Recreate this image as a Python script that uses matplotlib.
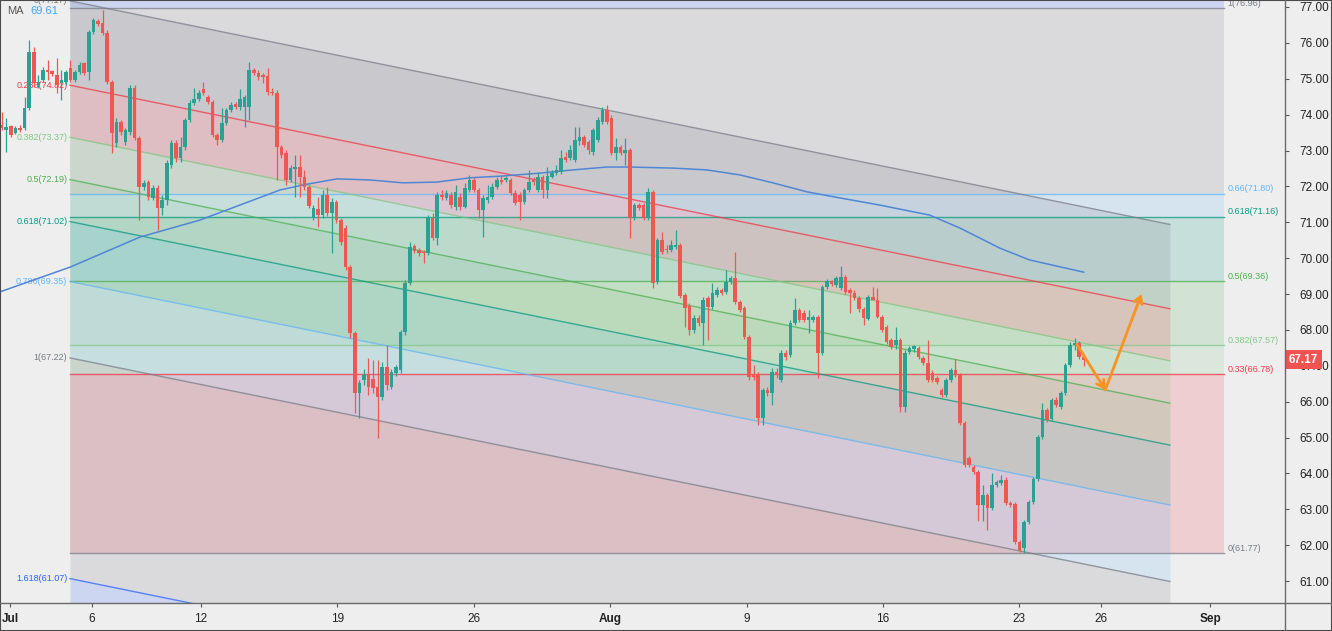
import numpy as np
import matplotlib.pyplot as plt
from matplotlib.patches import FancyArrowPatch, Rectangle
from matplotlib.lines import Line2D

plt.rcParams['font.family'] = ['Liberation Sans', 'DejaVu Sans']

# Brent 4H candles, 30 Jun - 25 Aug 2021
opens = [
    73.71, 73.57, 73.68, 73.49, 73.63, 73.63, 74.19, 75.75, 74.83, 74.97,
    75.24, 75.22, 75.10, 74.88, 74.91, 75.30, 74.97, 75.19, 75.44, 75.19,
    76.30, 76.61, 76.55, 76.28, 74.91, 73.21, 73.79, 73.24, 73.52, 74.74,
    73.35, 71.98, 72.12, 71.68, 71.96, 71.40, 71.62, 72.60, 73.21, 72.79,
    73.10, 73.85, 74.32, 74.44, 74.71, 74.49, 74.35, 73.43, 73.29, 73.77,
    74.13, 74.30, 74.21, 74.21, 74.21, 75.24, 75.16, 75.10, 75.08, 74.63,
    74.60, 73.10, 72.93, 72.18, 72.49, 72.54, 72.26, 71.98, 71.15, 71.37,
    71.20, 71.76, 71.26, 71.57, 71.06, 70.84, 69.75, 67.92, 66.25, 66.61,
    66.75, 66.64, 66.42, 66.14, 66.97, 66.42, 66.80, 66.88, 67.94, 69.31,
    70.34, 70.23, 70.17, 70.15, 71.12, 70.56, 71.76, 71.68, 71.76, 71.43,
    71.70, 71.43, 71.90, 72.18, 71.90, 71.34, 71.62, 71.70, 71.98, 72.18,
    72.18, 72.18, 71.82, 71.76, 71.57, 71.90, 72.18, 71.90, 72.26, 71.90,
    72.26, 72.37, 72.40, 72.82, 72.79, 72.74, 73.26, 73.38, 73.24, 72.96,
    73.29, 73.80, 74.13, 73.91, 72.93, 73.10, 72.93, 73.01, 71.12, 71.48,
    71.48, 71.12, 71.85, 69.34, 70.51, 70.26, 70.23, 70.31, 70.37, 68.97,
    68.66, 68.00, 68.33, 68.19, 68.88, 68.64, 68.97, 69.11, 69.06, 69.34,
    69.45, 68.78, 68.61, 67.81, 66.75, 66.75, 65.55, 66.33, 66.25, 66.83,
    66.61, 67.36, 67.30, 68.19, 68.56, 68.47, 68.28, 68.28, 68.36, 67.36,
    69.20, 69.37, 69.25, 69.17, 69.48, 69.11, 69.03, 68.89, 68.58, 68.30,
    68.92, 68.84, 68.37, 68.08, 67.72, 67.58, 67.72, 65.85, 67.39, 67.47,
    67.50, 67.22, 67.08, 66.80, 66.66, 66.33, 66.19, 66.61, 66.88, 66.75,
    65.41, 64.43, 64.17, 64.04, 63.12, 63.40, 63.04, 63.68, 63.74, 63.82,
    63.18, 63.15, 62.08, 61.92, 62.64, 63.20, 63.85, 65.02, 65.77, 65.52,
    66.05, 65.85, 66.25, 67.02, 67.58, 67.64, 67.25]
highs = [
    74.07, 73.90, 73.71, 73.68, 73.71, 74.49, 76.08, 75.89, 75.10, 75.33,
    75.52, 75.24, 75.58, 75.24, 75.24, 75.52, 75.24, 75.47, 75.47, 76.36,
    76.69, 76.67, 76.92, 76.36, 74.97, 73.91, 73.85, 73.63, 74.83, 74.83,
    73.40, 72.18, 72.18, 72.04, 72.04, 71.76, 72.74, 73.29, 73.29, 73.38,
    73.91, 74.41, 74.74, 74.69, 74.91, 74.55, 74.41, 73.49, 74.19, 74.19,
    74.35, 74.35, 74.72, 74.55, 75.47, 75.30, 75.24, 75.16, 75.30, 74.74,
    74.69, 73.15, 73.01, 72.60, 72.87, 72.87, 72.46, 72.04, 71.48, 71.70,
    71.90, 71.98, 71.68, 71.62, 71.12, 70.92, 69.80, 67.98, 66.61, 66.91,
    67.22, 67.16, 67.16, 67.11, 67.58, 66.91, 67.02, 68.00, 69.39, 70.45,
    70.40, 70.28, 70.23, 71.20, 71.26, 71.85, 71.90, 71.90, 71.85, 72.04,
    71.82, 72.10, 72.32, 72.24, 71.96, 71.76, 72.04, 72.10, 72.26, 72.29,
    72.29, 72.24, 71.90, 71.85, 71.96, 72.46, 72.26, 72.40, 72.32, 72.54,
    72.46, 72.60, 73.01, 72.96, 73.15, 73.65, 73.65, 73.43, 73.29, 73.63,
    73.94, 74.21, 74.27, 73.99, 73.35, 73.15, 73.35, 73.07, 71.54, 71.54,
    71.54, 71.96, 71.90, 70.56, 70.73, 70.37, 70.51, 70.79, 70.42, 69.03,
    68.75, 68.42, 68.42, 68.92, 68.95, 69.31, 69.20, 69.17, 69.67, 69.50,
    70.17, 68.83, 68.67, 67.86, 67.02, 66.83, 66.39, 66.42, 66.94, 66.94,
    67.44, 67.44, 68.28, 68.89, 68.61, 68.56, 68.56, 68.42, 68.42, 69.25,
    69.42, 69.39, 69.50, 69.78, 69.53, 69.17, 69.11, 68.95, 68.64, 68.97,
    69.20, 69.17, 68.42, 68.14, 67.78, 68.08, 67.78, 67.44, 67.55, 67.58,
    67.55, 67.27, 67.72, 66.88, 66.72, 66.39, 66.66, 66.94, 67.19, 66.80,
    65.46, 64.48, 64.23, 64.10, 63.68, 63.45, 64.01, 63.82, 63.96, 63.90,
    63.23, 63.20, 62.14, 62.70, 63.26, 63.90, 65.07, 65.97, 65.83, 66.11,
    66.14, 66.30, 67.08, 67.67, 67.78, 67.69, 67.30]
lows = [
    73.57, 72.96, 73.38, 73.46, 73.52, 73.57, 74.13, 74.77, 74.74, 74.91,
    74.97, 75.08, 74.60, 74.41, 74.83, 74.91, 74.91, 75.13, 75.10, 74.97,
    76.25, 76.47, 76.22, 74.85, 72.93, 73.10, 73.43, 73.15, 73.43, 73.29,
    71.06, 71.90, 71.62, 71.62, 70.79, 71.20, 71.48, 72.51, 72.68, 72.68,
    73.01, 73.80, 74.27, 74.38, 74.55, 74.30, 73.38, 73.15, 73.24, 73.71,
    74.07, 74.16, 74.13, 73.66, 73.85, 75.10, 74.97, 74.88, 74.55, 74.55,
    72.18, 72.79, 72.04, 72.12, 71.70, 71.70, 71.90, 71.40, 71.06, 70.87,
    71.12, 71.17, 70.15, 70.98, 70.37, 69.67, 67.78, 65.69, 65.55, 66.47,
    66.19, 66.25, 64.99, 66.05, 66.33, 66.36, 66.72, 66.80, 67.86, 69.25,
    70.15, 70.06, 69.87, 70.09, 70.51, 70.37, 71.62, 71.62, 71.40, 71.34,
    71.34, 71.40, 71.85, 71.85, 71.12, 70.59, 71.54, 71.65, 71.93, 72.07,
    72.12, 71.76, 71.48, 71.06, 71.51, 71.85, 72.04, 71.85, 71.68, 71.68,
    72.24, 72.32, 72.35, 72.68, 72.74, 72.68, 73.15, 73.10, 72.90, 72.87,
    73.24, 73.74, 73.74, 72.87, 72.74, 72.87, 72.60, 70.56, 71.06, 71.34,
    71.06, 71.06, 69.17, 69.28, 70.12, 70.15, 70.17, 70.26, 68.89, 68.08,
    67.86, 67.92, 68.11, 67.58, 67.72, 68.58, 68.92, 68.97, 69.00, 69.28,
    68.72, 68.50, 67.75, 66.61, 66.61, 65.35, 65.35, 66.16, 65.91, 66.66,
    66.55, 67.16, 67.25, 68.14, 68.22, 68.22, 67.92, 68.22, 66.66, 67.30,
    69.14, 69.23, 69.20, 69.11, 69.00, 68.47, 68.83, 68.50, 68.14, 68.28,
    68.83, 68.33, 67.94, 67.61, 67.47, 67.47, 65.71, 65.71, 67.33, 67.39,
    67.19, 67.02, 66.55, 66.55, 66.50, 66.14, 66.14, 66.55, 66.69, 65.35,
    64.17, 64.17, 63.98, 62.67, 62.67, 62.42, 62.98, 63.62, 63.68, 63.12,
    63.07, 62.03, 61.81, 61.78, 62.59, 63.15, 63.79, 64.96, 65.43, 65.46,
    65.85, 65.80, 66.19, 66.97, 67.44, 67.19, 66.99]
closes = [
    73.63, 73.65, 73.43, 73.63, 73.57, 74.19, 75.75, 74.88, 74.91, 75.24,
    75.19, 75.13, 74.83, 74.97, 75.19, 74.97, 75.19, 75.38, 75.16, 76.30,
    76.64, 76.53, 76.28, 74.91, 73.49, 73.79, 73.52, 73.57, 74.74, 73.35,
    71.98, 72.10, 71.70, 71.96, 71.40, 71.62, 72.65, 73.21, 72.79, 73.10,
    73.85, 74.32, 74.44, 74.60, 74.60, 74.35, 73.43, 73.29, 73.77, 74.13,
    74.27, 74.21, 74.44, 74.49, 75.24, 75.16, 75.05, 75.05, 74.63, 74.60,
    73.10, 72.87, 72.18, 72.51, 72.54, 72.26, 71.98, 71.45, 71.40, 71.20,
    71.76, 71.26, 71.57, 71.06, 70.45, 69.75, 67.92, 66.25, 66.53, 66.75,
    66.42, 66.39, 66.14, 66.97, 66.47, 66.83, 66.97, 67.94, 69.31, 70.31,
    70.20, 70.15, 70.15, 71.12, 70.56, 71.76, 71.70, 71.82, 71.48, 71.85,
    71.43, 71.96, 72.18, 71.90, 71.34, 71.68, 71.70, 71.98, 72.18, 72.12,
    72.24, 71.82, 71.54, 71.57, 71.90, 72.12, 72.12, 72.26, 71.90, 72.29,
    72.37, 72.46, 72.79, 72.74, 73.01, 73.29, 73.38, 73.15, 73.01, 73.57,
    73.85, 74.13, 73.80, 72.93, 73.10, 72.93, 73.01, 71.12, 71.48, 71.40,
    71.12, 71.85, 69.31, 70.51, 70.17, 70.23, 70.37, 70.37, 68.95, 68.61,
    68.00, 68.33, 68.19, 68.83, 68.64, 69.03, 69.11, 69.03, 69.34, 69.45,
    68.78, 68.56, 67.81, 66.69, 66.69, 65.55, 66.33, 66.25, 66.83, 66.75,
    67.36, 67.25, 68.19, 68.56, 68.28, 68.28, 68.36, 68.36, 67.36, 69.20,
    69.37, 69.28, 69.45, 69.48, 69.06, 69.03, 68.89, 68.58, 68.33, 68.92,
    68.84, 68.37, 68.00, 67.67, 67.53, 67.72, 65.85, 67.36, 67.50, 67.55,
    67.25, 67.08, 66.61, 66.61, 66.55, 66.19, 66.61, 66.88, 66.75, 65.41,
    64.23, 64.23, 64.04, 63.12, 63.40, 63.04, 63.68, 63.76, 63.82, 63.18,
    63.12, 62.08, 61.87, 62.64, 63.20, 63.85, 65.02, 65.77, 65.49, 66.05,
    65.91, 66.25, 67.02, 67.58, 67.64, 67.25, 67.17]

# moving average, sampled along the line (bar index, value)
ma_bars = [-0.4, 14.9, 30.2, 43.2, 60.7, 65.7, 73.1, 80.3, 87.5, 94.9, 102.1, 109.3,
           117.4, 124.6, 132.0, 137.0, 146.4, 153.8, 161.0, 168.2, 175.6, 180.6,
           191.5, 202.4, 209.0, 217.7, 224.2, 236.0]
ma_vals = [69.06, 69.75, 70.59, 71.06, 71.90, 72.04, 72.21, 72.18, 72.10, 72.12, 72.24, 72.29,
           72.37, 72.46, 72.54, 72.54, 72.51, 72.46, 72.32, 72.10, 71.85, 71.73,
           71.48, 71.20, 70.84, 70.28, 69.95, 69.61]

# fib channel (levels and prices at its left anchor)
ch_levels = ['0', '0.236', '0.382', '0.5', '0.618', '0.786', '1', '1.618']
ch_prices = [77.17, 74.82, 73.37, 72.19, 71.02, 69.35, 67.22, 61.07]
ch_colors = ['#787b86', '#f23645', '#81c784', '#4caf50', '#089981', '#64b5f6', '#787b86', '#2962ff']
ch_end_top = 70.94

# fib retracement
rt_levels = ['0', '0.33', '0.382', '0.5', '0.618', '0.66', '1']
rt_prices = [61.77, 66.78, 67.57, 69.36, 71.16, 71.80, 76.96]
rt_colors = ['#787b86', '#f23645', '#81c784', '#4caf50', '#089981', '#64b5f6', '#787b86']

# projected path (orange arrows)
proj_bars = [234.5, 240.7, 248.6]
proj_prices = [67.60, 66.33, 69.00]

tick_days = [0, 3, 7, 12, 17, 22, 27, 32, 37, 40, 44]
tick_labels = ['Jul', '6', '12', '19', '26', 'Aug', '9', '16', '23', '26', 'Sep']
month_labels = {'Jul', 'Aug', 'Sep'}

BG = '#eeeeee'
UP, DOWN = '#2ba194', '#ee5752'

W, H = 1332, 631
fig = plt.figure(figsize=(W / 100, H / 100), dpi=100, facecolor=BG)
ax = fig.add_axes([0, 28 / H, 1285 / W, 603 / H])
ax.set_facecolor(BG)
ax.set_xlim(-0.37, 279.9)
ax.set_ylim(60.39, 77.195)

x0, x1, xr = 14.9, 254.8, 266.7
fa = 0.17

# retracement bands
rt_ext = rt_prices[0] + 1.618 * (rt_prices[-1] - rt_prices[0])
bands = rt_prices + [rt_ext]
bcols = rt_colors[1:] + ['#2962ff']
for k in range(len(bands) - 1):
    ax.fill_between([x0, xr], bands[k], bands[k + 1], color=bcols[k], alpha=fa, lw=0, zorder=1)
for p, col in zip(rt_prices, rt_colors):
    ax.plot([x0, xr], [p, p], color=col, lw=1, alpha=0.75, zorder=2)

# channel bands
slope = (ch_end_top - ch_prices[0]) / (x1 - x0)
xs = np.array([x0, x1])
width = ch_prices[0] - ch_prices[6]
ch_all = ch_prices + [ch_prices[0] - 2.618 * width]
for k in range(len(ch_all) - 1):
    ax.fill_between(xs, ch_all[k] + slope * (xs - x0), ch_all[k + 1] + slope * (xs - x0),
                    color=ch_colors[k], alpha=fa, lw=0, zorder=1)
for p, col in zip(ch_prices, ch_colors):
    ax.plot(xs, p + slope * (xs - x0), color=col, lw=1, alpha=0.75, zorder=2)

# level labels
for lv, p, col in zip(ch_levels, ch_prices, ch_colors):
    ax.text(x0 - 0.6, p, f'{lv}({p:.2f})', color=col, fontsize=6.5, ha='right',
            va='center', zorder=2.5, clip_on=False)
for lv, p, col in zip(rt_levels, rt_prices, rt_colors):
    ax.text(xr + 0.6, p + 0.13, f'{lv}({p:.2f})', color=col, fontsize=6.5, ha='left',
            va='center', zorder=2.5, clip_on=False)

# MA
ax.plot(ma_bars, ma_vals, color='#4f86d6', lw=1.1, zorder=3, solid_joinstyle='round')

# candles
o = np.array(opens)
c = np.array(closes)
h = np.maximum(np.array(highs), np.maximum(o, c))
l = np.minimum(np.array(lows), np.minimum(o, c))
xb = np.arange(len(c))
cols = np.where(c >= o, UP, DOWN)
ax.vlines(xb, l, h, colors=cols, lw=0.9, zorder=4)
ax.bar(xb, np.maximum(np.abs(c - o), 0.03), bottom=np.minimum(o, c), width=0.78,
       color=cols, lw=0, zorder=5)

# projection arrows
for a, b in [(0, 1), (1, 2)]:
    arr = FancyArrowPatch((proj_bars[a], proj_prices[a]), (proj_bars[b], proj_prices[b]),
                          arrowstyle='->,head_length=5,head_width=3', color='#f7931e',
                          lw=2, shrinkA=0, shrinkB=0, zorder=6)
    ax.add_patch(arr)

# axes styling
for s in ['top', 'left', 'right', 'bottom']:
    ax.spines[s].set_visible(False)
ax.yaxis.tick_right()
ax.set_yticks(np.arange(61, 78, 1))
ax.set_yticklabels([f'{v:.2f}' for v in np.arange(61, 78, 1)])
ax.tick_params(axis='y', length=3, width=0.8, color='#555555', pad=7, labelsize=8.5,
               labelcolor='#222222')
ax.set_xticks([1.8 + 5.95 * d for d in tick_days])
ax.set_xticklabels(tick_labels)
for t in ax.get_xticklabels():
    if t.get_text() in month_labels:
        t.set_fontweight('bold')
ax.tick_params(axis='x', length=3, width=0.8, color='#555555', pad=4, labelsize=8.5,
               labelcolor='#222222')

fig.add_artist(Line2D([1285 / W, 1285 / W], [0, 1], color='#6a6a6a', lw=1))
fig.add_artist(Line2D([0, 1], [28 / H, 28 / H], color='#6a6a6a', lw=1))
fig.add_artist(Rectangle((0, 0), 1, 1, fill=False, ec='#4a4a4a', lw=1.5,
                         transform=fig.transFigure))

# last price tag (covers most of the 67.00 label, as on the source chart)
ax.text(1.0 + 4 / 1285, closes[-1], f'{closes[-1]:.2f}', transform=ax.get_yaxis_transform(),
        color='white', fontsize=8.5, fontweight='bold', ha='left', va='center', zorder=10,
        clip_on=False, bbox=dict(boxstyle='square,pad=0.3', fc='#f05350', ec='none'))

# MA legend
fig.text(7 / W, 1 - 11 / H, 'MA', color='#555555', fontsize=8, va='center')
fig.text(30 / W, 1 - 11 / H, f'{ma_vals[-1]:.2f}', color='#42a5f5', fontsize=8, va='center')

fig.savefig('out.png', dpi=100, facecolor=BG)
